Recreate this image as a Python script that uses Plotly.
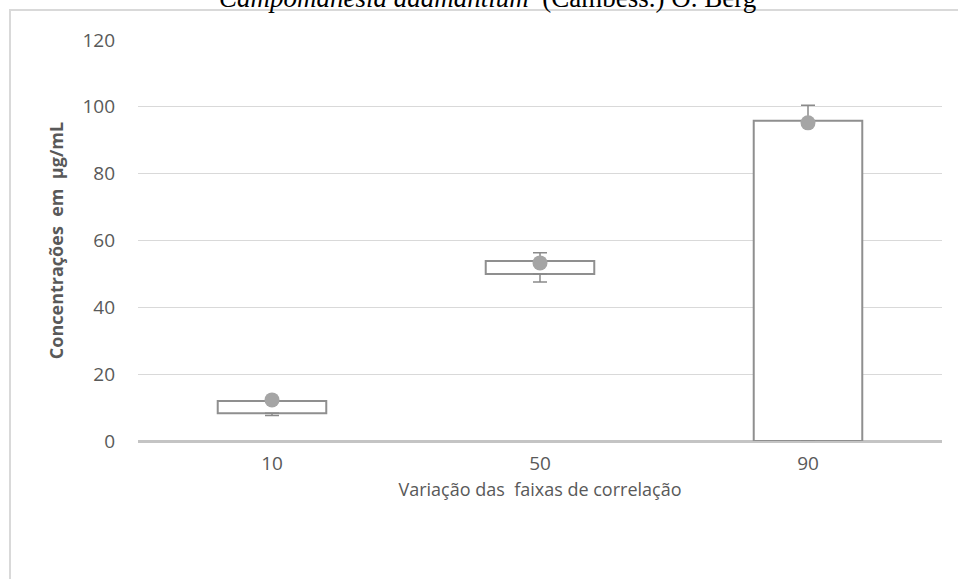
import plotly.graph_objects as go

categories = ["10", "50", "90"]
q1 = [8.3, 50.0, 0.0]
q3 = [12.0, 53.9, 95.8]
means = [12.3, 53.3, 95.2]
whisker_low = [7.6, 47.6, 0.0]
whisker_high = [12.0, 56.3, 100.5]
y_ticks = [0, 20, 40, 60, 80, 100, 120]

L, R, T, B = 138, 16, 40, 138
W, H = 958, 579
pw, ph = W - L - R, H - T - B

def px_x(x):
    return (x - L) / pw

def px_y(y):
    return (H - B - y) / ph

fig = go.Figure()

fig.add_trace(go.Bar(
    x=categories,
    y=[b - a for a, b in zip(q1, q3)],
    base=q1,
    width=0.405,
    marker=dict(color="white", line=dict(color="#8f8f8f", width=2)),
    showlegend=False,
    hoverinfo="skip",
))

# upper whiskers
fig.add_trace(go.Scatter(
    x=categories, y=q3, mode="markers",
    marker=dict(size=1, color="rgba(0,0,0,0)"),
    error_y=dict(type="data", symmetric=False,
                 array=[h - b for h, b in zip(whisker_high, q3)],
                 arrayminus=[0, 0, 0],
                 color="#8a8a8a", thickness=1.5, width=7),
    showlegend=False, hoverinfo="skip",
))
# lower whiskers
fig.add_trace(go.Scatter(
    x=categories, y=q1, mode="markers",
    marker=dict(size=1, color="rgba(0,0,0,0)"),
    error_y=dict(type="data", symmetric=False,
                 array=[0, 0, 0],
                 arrayminus=[a - l for a, l in zip(q1, whisker_low)],
                 color="#8a8a8a", thickness=1.5, width=7),
    showlegend=False, hoverinfo="skip",
))

fig.add_trace(go.Scatter(
    x=categories, y=means, mode="markers",
    marker=dict(size=15, color="#a5a5a5"),
    showlegend=False,
))

# outer frame (left and top edges)
fig.add_shape(type="path",
              path=f"M {px_x(10)},{px_y(585)} L {px_x(10)},{px_y(10)} L {px_x(965)},{px_y(10)}",
              xref="paper", yref="paper",
              line=dict(color="#d9d9d9", width=2))

fig.add_annotation(
    text="<i>Campomanesia adamantium</i>  (Cambess.) O. Berg",
    xref="paper", yref="paper", x=px_x(487), y=px_y(-2),
    xanchor="center", yanchor="middle", showarrow=False,
    font=dict(family="Liberation Serif", size=27, color="#000000"),
)

fig.update_layout(
    width=W, height=H,
    margin=dict(l=L, r=R, t=T, b=B),
    paper_bgcolor="white", plot_bgcolor="white",
    font=dict(family="Open Sans", color="#595959"),
    bargap=0.6,
    xaxis=dict(
        type="category",
        showgrid=False, showline=False, zeroline=False,
        tickfont=dict(size=19, color="#595959"),
        title=dict(text="Variação das  faixas de correlação",
                   font=dict(size=18, color="#595959"), standoff=8),
        ticks="", ticklabelstandoff=9,
    ),
    yaxis=dict(
        range=[0, 120], tickvals=y_ticks,
        showgrid=True, gridcolor="#d9d9d9", gridwidth=1,
        zeroline=True, zerolinecolor="#c4c4c4", zerolinewidth=3,
        showline=False,
        tickfont=dict(size=19, color="#595959"),
        ticks="", ticklabelstandoff=22,
        title=dict(text="<b>Concentrações  em  µg/mL</b>",
                   font=dict(size=18, color="#595959"), standoff=14),
    ),
)

fig.write_html("out.html", config={"displayModeBar": False},
               post_script="document.body.style.margin='0';document.body.style.overflow='hidden';")
